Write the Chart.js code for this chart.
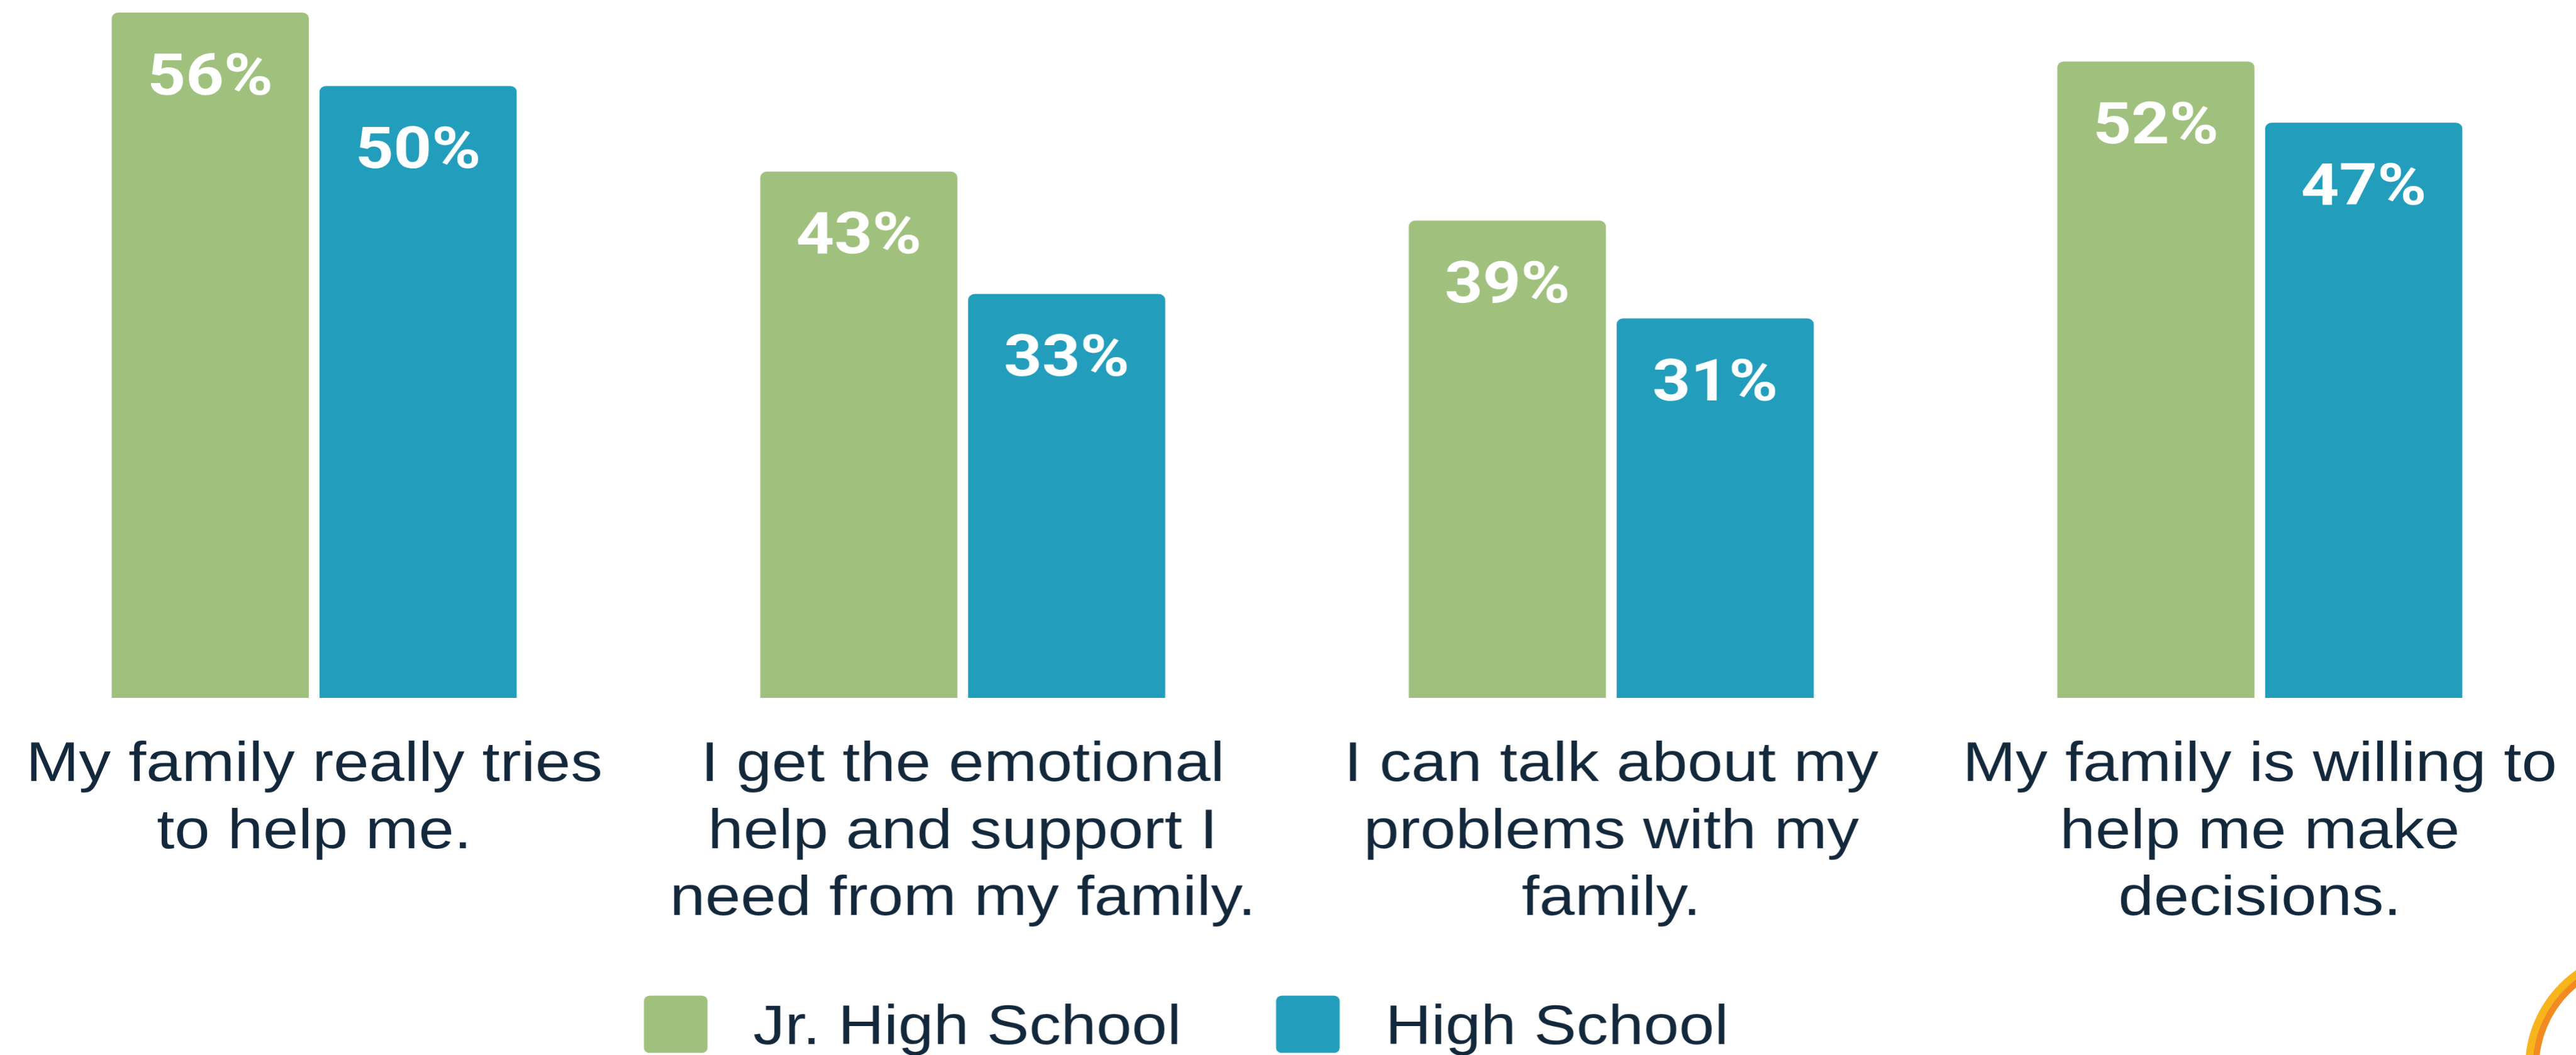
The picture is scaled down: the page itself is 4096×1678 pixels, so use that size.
<!DOCTYPE html>
<html>
<head>
<meta charset="utf-8">
<title>Family support by school level</title>
<script src="https://cdn.jsdelivr.net/npm/chart.js@4.4.1/dist/chart.umd.min.js"></script>
<style>
  html, body { margin: 0; padding: 0; background: #fff; overflow: hidden; width: 4096px; height: 1678px; }
  /* the source picture is stretched sideways, so the chart is drawn narrow and widened */
  #wrap { position: absolute; left: -16px; top: 0; width: 3586px; height: 1678px; transform-origin: 0 0; transform: scaleX(1.15); }
</style>
</head>
<body>
<div id="wrap"><canvas id="chartCanvas"></canvas></div>
<script>
// Data
const categories = [
    ["My family really tries", "to help me."],
    ["I get the emotional", "help and support I", "need from my family."],
    ["I can talk about my", "problems with my", "family."],
    ["My family is willing to", "help me make", "decisions."]
];
const seriesNames = ["Jr. High School", "High School"];
const jrHighValues = [56, 43, 39, 52];
const highSchoolValues = [50, 33, 31, 47];

const STRETCH = 1.15;
const TEXT_COLOR = "#14283c";
const LABEL_FONT = "'Liberation Sans', Arial, sans-serif";

// White percentage labels inside the top of each bar
const valueLabels = {
    id: "valueLabels",
    afterDatasetsDraw(chart) {
        const ctx = chart.ctx;
        ctx.save();
        ctx.font = "bold 92px Roboto, sans-serif";
        ctx.fillStyle = "#ffffff";
        ctx.textAlign = "center";
        ctx.textBaseline = "alphabetic";
        chart.data.datasets.forEach((ds, i) => {
            chart.getDatasetMeta(i).data.forEach((bar, j) => {
                ctx.fillText(ds.data[j] + "%", bar.x, bar.y + 130);
            });
        });
        ctx.restore();
    }
};

// Legend under the labels, drawn from the datasets
const bottomLegend = {
    id: "bottomLegend",
    afterDraw(chart) {
        const ctx = chart.ctx;
        const boxW = 88, boxH = 91, top = 1583;
        let x = 904;
        ctx.save();
        ctx.font = "88px " + LABEL_FONT;
        ctx.textBaseline = "alphabetic";
        chart.data.datasets.forEach(ds => {
            ctx.fillStyle = ds.backgroundColor;
            ctx.beginPath();
            ctx.roundRect(x, top, boxW, boxH, 8);
            ctx.fill();
            ctx.fillStyle = TEXT_COLOR;
            ctx.fillText(ds.label, x + boxW + 63, 1660);
            x += boxW + 63 + ctx.measureText(ds.label).width + 131;
        });
        ctx.restore();
    }
};

// Orange ring peeking in at the bottom right corner
const cornerRing = {
    id: "cornerRing",
    afterDraw(chart) {
        const ctx = chart.ctx;
        const cx = 3668, cy = 1697, r = 188;
        const rings = [[r, "#f8b41c"], [r - 12, "#f28a22"], [r - 22, "#ffffff"]];
        ctx.save();
        rings.forEach(([rad, col]) => {
            ctx.beginPath();
            ctx.ellipse(cx, cy, rad / STRETCH, rad, 0, 0, Math.PI * 2);
            ctx.fillStyle = col;
            ctx.fill();
        });
        ctx.restore();
    }
};

function drawChart() {
    const ctx = document.getElementById("chartCanvas").getContext("2d");

    new Chart(ctx, {
        type: "bar",
        data: {
            labels: categories,
            datasets: [
                {
                    label: seriesNames[0],
                    data: jrHighValues,
                    backgroundColor: "#a0c17e"
                },
                {
                    label: seriesNames[1],
                    data: highSchoolValues,
                    backgroundColor: "#229dbb"
                }
            ]
        },
        options: {
            responsive: true,
            maintainAspectRatio: false,
            devicePixelRatio: STRETCH,
            animation: false,
            events: [],
            layout: { padding: { top: 20, left: 0, right: 0, bottom: 0 } },
            datasets: {
                bar: {
                    categoryPercentage: 0.641,
                    barPercentage: 0.9485,
                    borderRadius: 9,
                    borderSkipped: "start"
                }
            },
            plugins: {
                legend: { display: false },
                tooltip: { enabled: false }
            },
            scales: {
                x: {
                    grid: { display: false },
                    border: { display: false },
                    ticks: {
                        color: TEXT_COLOR,
                        font: { family: LABEL_FONT, size: 88, lineHeight: 1.21 },
                        padding: 47,
                        maxRotation: 0,
                        minRotation: 0,
                        autoSkip: false
                    },
                    // fixed height for labels + legend, and no side padding for long labels
                    afterFit(scale) {
                        scale.height = 568.5;
                        scale.paddingLeft = 0;
                        scale.paddingRight = 0;
                    }
                },
                y: {
                    display: false,
                    min: 0,
                    max: 56
                }
            }
        },
        plugins: [valueLabels, bottomLegend, cornerRing]
    });
}

drawChart();
</script>
</body>
</html>
